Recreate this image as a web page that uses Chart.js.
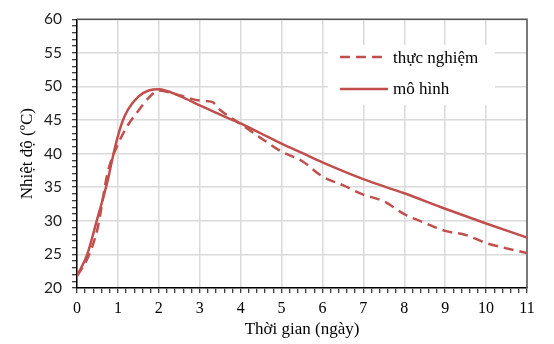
<!DOCTYPE html>
<html>
<head>
<meta charset="utf-8">
<script src="https://cdn.jsdelivr.net/npm/chart.js@4.4.1/dist/chart.umd.min.js"></script>
<style>
	html, body { margin: 0; padding: 0; background: #fff; }
	#wrap { width: 554px; height: 344px; position: relative; }
</style>
</head>
<body>
<div id="wrap"><canvas id="tempChart"></canvas></div>
<script>
// measured data (thực nghiệm) - days, deg C
const expTime = [0, 0.25, 0.5, 0.75, 1, 1.25, 1.5, 1.75, 2, 2.5, 3, 3.3, 3.5, 4, 4.5, 5, 5.5, 6, 6.5, 7, 7.5, 8, 8.5, 9, 9.5, 10, 10.5, 11];
const expTemp = [21.8, 24.3, 28.8, 37.2, 41.4, 44.3, 46.4, 48.3, 49.4, 48.7, 47.9, 47.7, 46.5, 44.4, 42.3, 40.3, 38.9, 36.6, 35.3, 33.9, 32.9, 31.0, 29.7, 28.5, 27.9, 26.7, 25.9, 25.2];

// model curve (mô hình)
const modelTime = [0, 0.25, 0.5, 0.75, 0.875, 1, 1.125, 1.25, 1.5, 1.75, 2, 2.5, 3, 3.5, 4, 4.5, 5, 5.5, 6, 7, 8, 9, 10, 11];
const modelTemp = [21.8, 25.0, 30.4, 36.0, 39.5, 42.6, 45.0, 46.6, 48.5, 49.4, 49.6, 48.6, 47.2, 45.8, 44.5, 43.0, 41.5, 40.1, 38.7, 36.2, 34.1, 31.8, 29.6, 27.5];

const seriesNames = ['thực nghiệm', 'mô hình'];
const xRange = [0, 11];
const yRange = [20, 60];

const lineColor = '#c0504d';
const gridColor = '#dadada';

const toPoints = (xs, ys) => xs.map((x, i) => ({ x: x, y: ys[i] }));
const isWhole = (v, step) => Math.abs(v / step - Math.round(v / step)) < 1e-6;

// frame + legend drawn on canvas
const framePlugin = {
	id: 'frameAndLegend',
	beforeDatasetsDraw(chart) {
		const { ctx, chartArea: { top, left, right, bottom } } = chart;
		ctx.save();
		ctx.strokeStyle = '#555';
		ctx.lineWidth = 1.5;
		ctx.beginPath();
		ctx.moveTo(left, top);
		ctx.lineTo(right, top);
		ctx.lineTo(right, bottom);
		ctx.stroke();

		// legend box
		ctx.fillStyle = '#fff';
		ctx.fillRect(328, 45, 167, 60);
		ctx.restore();
	},
	afterDatasetsDraw(chart) {
		const { ctx } = chart;
		ctx.save();
		ctx.strokeStyle = lineColor;
		ctx.lineWidth = 2.5;
		ctx.setLineDash([10, 6]);
		ctx.beginPath();
		ctx.moveTo(340, 57);
		ctx.lineTo(388, 57);
		ctx.stroke();
		ctx.setLineDash([]);
		ctx.beginPath();
		ctx.moveTo(340, 89);
		ctx.lineTo(388, 89);
		ctx.stroke();

		ctx.fillStyle = '#000';
		ctx.font = '17px "Liberation Serif"';
		ctx.textAlign = 'left';
		ctx.textBaseline = 'alphabetic';
		ctx.fillText(seriesNames[0], 393, 63);
		ctx.fillText(seriesNames[1], 393, 94);
		ctx.restore();
	}
};

const ctx = document.getElementById('tempChart').getContext('2d');

const tempChart = new Chart(ctx, {
	type: 'line',
	data: {
		datasets: [{
			label: seriesNames[0],
			data: toPoints(expTime, expTemp),
			borderColor: lineColor,
			borderWidth: 2.5,
			borderDash: [10, 6],
			pointRadius: 0,
			cubicInterpolationMode: 'monotone',
			fill: false
		}, {
			label: seriesNames[1],
			data: toPoints(modelTime, modelTemp),
			borderColor: lineColor,
			borderWidth: 2.5,
			pointRadius: 0,
			cubicInterpolationMode: 'monotone',
			fill: false
		}]
	},
	options: {
		responsive: true,
		maintainAspectRatio: false,
		animation: false,
		layout: { padding: { left: 17, top: 11, right: 27, bottom: 4 } },
		plugins: {
			legend: { display: false },
			tooltip: { enabled: false }
		},
		scales: {
			x: {
				type: 'linear',
				min: xRange[0],
				max: xRange[1],
				afterFit(scale) { scale.height = 52; },
				border: { color: '#000', width: 1.5 },
				grid: {
					color: (c) => isWhole(c.tick.value, 1) ? gridColor : 'rgba(0,0,0,0)',
					lineWidth: 1.5,
					tickColor: '#000',
					tickWidth: 1,
					tickLength: 5
				},
				ticks: {
					stepSize: 0.2,
					autoSkip: false,
					maxRotation: 0,
					padding: 6,
					color: '#000',
					font: { family: '"Liberation Serif"', size: 16 },
					callback: (v) => isWhole(v, 1) ? Math.round(v) : ''
				},
				title: {
					display: true,
					text: 'Thời gian (ngày)',
					color: '#000',
					padding: 0,
					font: { family: '"Liberation Serif"', size: 17 }
				}
			},
			y: {
				min: yRange[0],
				max: yRange[1],
				afterFit(scale) { scale.width = 60; },
				border: { color: '#000', width: 1.5 },
				grid: {
					color: (c) => isWhole(c.tick.value, 5) ? gridColor : 'rgba(0,0,0,0)',
					lineWidth: 1.5,
					tickColor: '#000',
					tickWidth: 1,
					tickLength: 5
				},
				ticks: {
					stepSize: 1,
					autoSkip: false,
					padding: 10,
					color: '#222',
					font: { family: 'Lato', size: 15.5 },
					callback: (v) => isWhole(v, 5) ? v : ''
				},
				title: {
					display: true,
					text: 'Nhiệt độ (ºC)',
					color: '#000',
					padding: 0,
					font: { family: '"Liberation Serif"', size: 17 }
				}
			}
		}
	},
	plugins: [framePlugin]
});
</script>
</body>
</html>
